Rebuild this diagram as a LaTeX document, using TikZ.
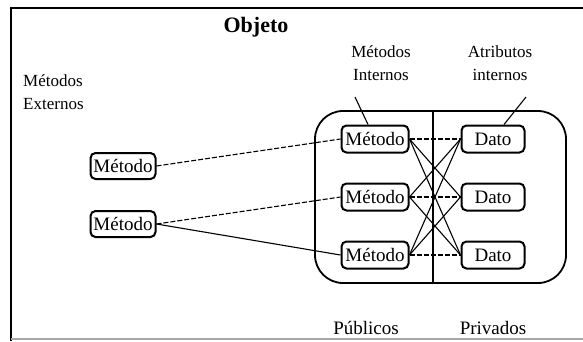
\documentclass[tikz,border=0pt]{standalone}
\usepackage{fontspec}
\setmainfont{Liberation Serif}
\begin{document}
\begin{tikzpicture}[x=1pt,y=-1pt,
  box/.style={draw,line width=2pt,rounded corners=5pt,inner sep=0pt,
    minimum height=27pt,font=\fontsize{19}{21}\selectfont},
  metbox/.style={box,minimum width=67pt},
  datbox/.style={box,minimum width=63pt},
  lbl/.style={font=\fontsize{17}{23}\selectfont,align=center,inner sep=0pt},
  link/.style={line width=1.1pt},
  dlink/.style={line width=1.1pt,dash pattern=on 5pt off 2pt}]
\useasboundingbox (0,0) rectangle (583,341);
% frame
\draw[line width=2pt] (11,341) -- (11,8) -- (583,8);
\draw[line width=1.2pt,gray!70] (11,339) -- (583,339);
% titles
\node[font=\bfseries\fontsize{22}{24}\selectfont,inner sep=0pt] (obj) at (256,27) {Objeto};
\node[lbl] (mi) at (381,63) {Métodos\\Internos};
\node[lbl] (ai) at (500,63) {Atributos\\internos};
\node[lbl,align=left,anchor=west] (me) at (23,92) {Métodos\\Externos};
\node[font=\fontsize{19}{21}\selectfont,inner sep=0pt] (pub) at (366,328) {Públicos};
\node[font=\fontsize{19}{21}\selectfont,inner sep=0pt] (pri) at (493,328) {Privados};
% big object box
\node[draw,line width=1.8pt,rounded corners=28pt,minimum width=251pt,minimum height=172pt,inner sep=0pt] (big) at (440.5,197) {};
\coordinate (divx) at (433,0);
\draw[line width=1.1pt] (big.north -| divx) -- (big.south -| divx);
% internal boxes
\node[metbox] (m1) at (375,139) {Método};
\node[metbox] (m2) at (375,197) {Método};
\node[metbox] (m3) at (375,255) {Método};
\node[datbox] (d1) at (493,139) {Dato};
\node[datbox] (d2) at (493,197) {Dato};
\node[datbox] (d3) at (493,255) {Dato};
% external boxes
\node[metbox,minimum width=65pt,minimum height=26pt] (e1) at (123,166) {Método};
\node[metbox,minimum width=65pt,minimum height=26pt] (e2) at (123,224) {Método};
% pointer lines
\coordinate (p1) at (355,97);
\coordinate (p2) at (526,97);
\draw[link] (p1) -- ([xshift=-7pt]m1.north);
\draw[link] (p2) -- ([xshift=11pt]d1.north);
% external links
\draw[dlink] (e1.east) -- (m1.west);
\draw[dlink] (e2.east) -- (m2.west);
\draw[link] (e2.east) -- (m3.west);
% internal links
\draw[dlink] (m1.east) -- (d1.west);
\draw[dlink] (m2.east) -- (d2.west);
\draw[dlink] (m3.east) -- (d3.west);
\draw[link] (m1.east) -- (d2.west);
\draw[link] (m1.east) -- (d3.west);
\draw[link] (m2.east) -- (d1.west);
\draw[link] (m2.east) -- (d3.west);
\draw[link] (m3.east) -- (d1.west);
\draw[link] (m3.east) -- (d2.west);
\end{tikzpicture}
\end{document}
